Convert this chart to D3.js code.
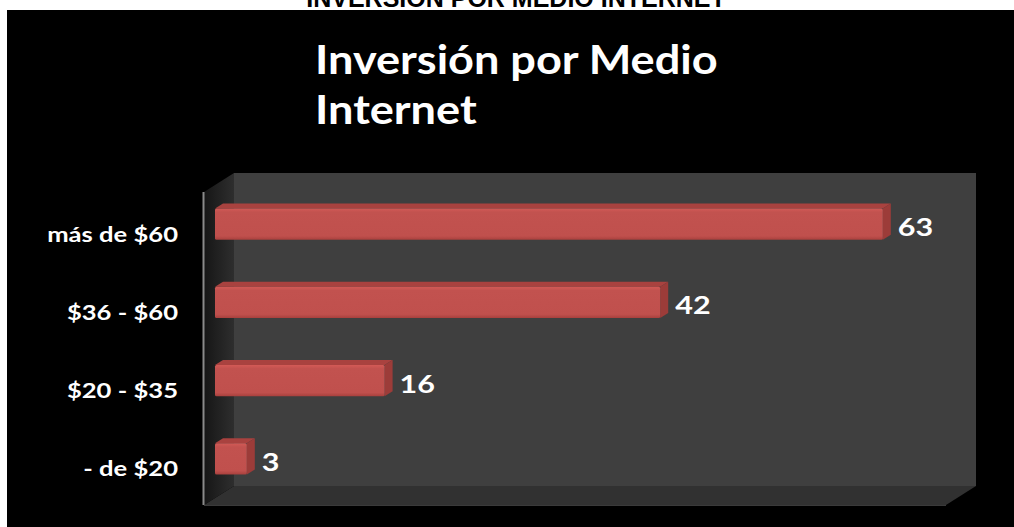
<!DOCTYPE html>
<html>
<head>
<meta charset="utf-8">
<script src="https://cdn.jsdelivr.net/npm/d3@7"></script>
<style>
  html, body { margin: 0; padding: 0; background: #fff; }
  svg { display: block; }
</style>
</head>
<body>
<svg id="chart" width="1014" height="527"></svg>
<script>
// Categories listed top to bottom as they appear on the axis
const categories = ["más de $60", "$36 - $60", "$20 - $35", "- de $20"];
const values = [63, 42, 16, 3];
const axisMax = 70;
const titleLines = ["Inversión por Medio", "Internet"];
const pageHeading = "INVERSIÓN POR MEDIO INTERNET";

const W = 1014, H = 527;
const svg = d3.select("#chart");

// page heading above the dark panel
svg.append("text")
  .attr("x", 516).attr("y", 7)
  .attr("text-anchor", "middle")
  .style("font-family", "'Liberation Sans', Arial, sans-serif")
  .style("font-weight", "bold")
  .style("font-size", "25px")
  .attr("fill", "#000")
  .text(pageHeading);

// dark chart panel
svg.append("rect")
  .attr("x", 7).attr("y", 10)
  .attr("width", W - 7).attr("height", H - 10)
  .attr("fill", "#000");

// 3D frame geometry: front plane and depth offset of the back wall
const front = { left: 204, right: 946, top: 192, bottom: 505 };
const depth = { dx: 30, dy: -19 };

const x = d3.scaleLinear().domain([0, axisMax]).range([front.left, front.right]);
const y = d3.scaleBand().domain(categories)
  .range([front.top, front.bottom])
  .paddingInner(0.6).paddingOuter(0.3);

// bars sit in the middle of the depth
const barShift = { dx: 11, dy: -7 };
const barDepth = { dx: 8, dy: -5 };

const defs = svg.append("defs");
const lw = defs.append("linearGradient").attr("id", "leftWall")
  .attr("x1", 0).attr("y1", 0).attr("x2", 1).attr("y2", 0);
lw.append("stop").attr("offset", 0).attr("stop-color", "#161616");
lw.append("stop").attr("offset", 1).attr("stop-color", "#2e2e2e");

const bw = defs.append("linearGradient").attr("id", "barFront")
  .attr("x1", 0).attr("y1", 0).attr("x2", 0).attr("y2", 1);
bw.append("stop").attr("offset", 0).attr("stop-color", "#d35a56");
bw.append("stop").attr("offset", 0.12).attr("stop-color", "#c2524f");
bw.append("stop").attr("offset", 0.88).attr("stop-color", "#c0504d");
bw.append("stop").attr("offset", 1).attr("stop-color", "#a8403d");

const poly = pts => "M" + pts.map(p => p.join(",")).join("L") + "Z";

const frame = svg.append("g");
// back wall
frame.append("path")
  .attr("d", poly([
    [front.left + depth.dx, front.top + depth.dy],
    [front.right + depth.dx, front.top + depth.dy],
    [front.right + depth.dx, front.bottom + depth.dy],
    [front.left + depth.dx, front.bottom + depth.dy]
  ]))
  .attr("fill", "#3f3f3f");
// floor
frame.append("path")
  .attr("d", poly([
    [front.left, front.bottom],
    [front.right, front.bottom],
    [front.right + depth.dx, front.bottom + depth.dy],
    [front.left + depth.dx, front.bottom + depth.dy]
  ]))
  .attr("fill", "#313131");
// left wall
frame.append("path")
  .attr("d", poly([
    [front.left, front.top],
    [front.left + depth.dx, front.top + depth.dy],
    [front.left + depth.dx, front.bottom + depth.dy],
    [front.left, front.bottom]
  ]))
  .attr("fill", "url(#leftWall)");
// front edge of the left wall
frame.append("line")
  .attr("x1", front.left - 0.5).attr("x2", front.left - 0.5)
  .attr("y1", front.top).attr("y2", front.bottom)
  .attr("stroke", "#8a8a8a").attr("stroke-width", 2);
frame.append("line")
  .attr("x1", front.left).attr("x2", front.right)
  .attr("y1", front.bottom + 0.5).attr("y2", front.bottom + 0.5)
  .attr("stroke", "#3a3a3a").attr("stroke-width", 1);

// bars
const data = categories.map((c, i) => ({ c, v: values[i] }));
const bars = svg.append("g").selectAll("g").data(data).join("g");

bars.each(function (d) {
  const g = d3.select(this);
  const x0 = x(0) + barShift.dx, x1 = x(d.v) + barShift.dx;
  const y0 = y(d.c) + barShift.dy, y1 = y0 + y.bandwidth();
  // top face
  g.append("path").attr("d", poly([
    [x0, y0], [x1, y0], [x1 + barDepth.dx, y0 + barDepth.dy], [x0 + barDepth.dx, y0 + barDepth.dy]
  ])).attr("fill", "#a9423f");
  // side face
  g.append("path").attr("d", poly([
    [x1, y0], [x1 + barDepth.dx, y0 + barDepth.dy], [x1 + barDepth.dx, y1 + barDepth.dy], [x1, y1]
  ])).attr("fill", "#9c3c39");
  // front face
  g.append("rect")
    .attr("x", x0).attr("y", y0)
    .attr("width", x1 - x0).attr("height", y1 - y0)
    .attr("rx", 1.5)
    .attr("fill", "url(#barFront)");
});

const stretch = 1.22;

// value labels
svg.append("g").selectAll("text").data(data).join("text")
  .attr("transform", d => {
    const tx = x(d.v) + barShift.dx + barDepth.dx + 7;
    const ty = y(d.c) + y.bandwidth() / 2 + barShift.dy + 12;
    return `translate(${tx},${ty}) scale(${stretch},1)`;
  })
  .style("font-family", "Lato, 'Open Sans', sans-serif")
  .style("font-weight", "bold")
  .style("font-size", "25px")
  .attr("fill", "#fff")
  .text(d => d.v);

// category axis labels
const yAxis = d3.axisLeft(y).tickSize(0).tickPadding(0);
const axisG = svg.append("g").attr("transform", `translate(178,4)`).call(yAxis);
axisG.select(".domain").remove();
axisG.selectAll("text")
  .attr("fill", "#fff")
  .attr("x", 0)
  .attr("transform", `scale(1.28,1)`)
  .style("font-family", "Lato, 'Open Sans', sans-serif")
  .style("font-weight", "bold")
  .style("font-size", "20px");

// chart title
const title = svg.append("text")
  .attr("transform", `translate(315,74) scale(1.1,1)`)
  .style("font-family", "Lato, 'Open Sans', sans-serif")
  .style("font-weight", "bold")
  .style("font-size", "41px")
  .attr("fill", "#fff");
titleLines.forEach((line, i) => {
  title.append("tspan").attr("x", 0).attr("dy", i === 0 ? 0 : 50).text(line);
});
</script>
</body>
</html>
